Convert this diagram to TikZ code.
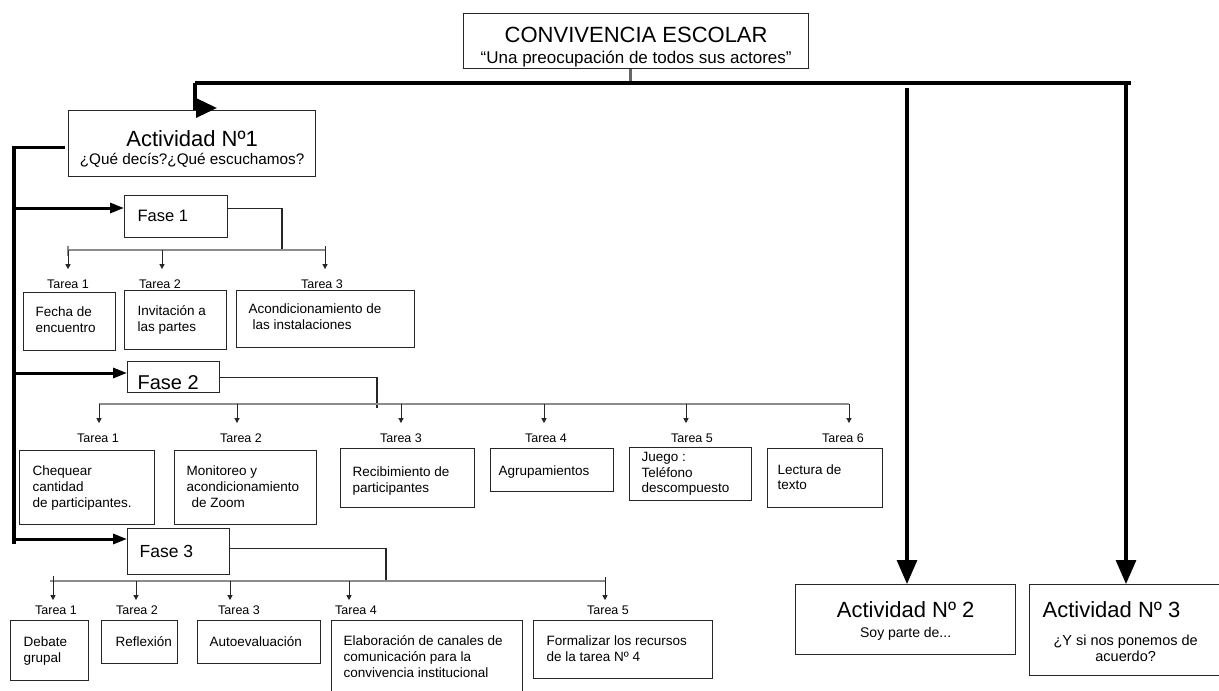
\documentclass[tikz,border=0pt]{standalone}
\usepackage{fontspec}
\setmainfont{Liberation Sans}
\usetikzlibrary{arrows.meta,calc}
\newcommand\fs[2]{\fontsize{#1pt}{#2pt}\selectfont}
% #1 font, #2 name, #3 x0, #4 y0, #5 width, #6 height, #7 text indent, #8 first baseline from top, #9 text
\newcommand\tbx[9][\fs{13.5}{16}]{%
  \node[box, text height=#8pt, text depth=\fpeval{#6-#8}pt] (#2) at (#3,#4)
  {\parbox[t]{#5pt}{#1\raggedright\leftskip=#7pt\relax #9}};}
\begin{document}
\begin{tikzpicture}[x=1pt,y=-1pt,
  box/.style={draw=black!85, line width=1.3pt, inner sep=0pt, anchor=north west},
  tl/.style={font=\fs{12.5}{15}, anchor=base, inner xsep=0pt, inner ysep=10pt},
  bar/.style={draw=black!45, line width=1.5pt},
  conn/.style={draw=black!85, line width=1.3pt},
  tarr/.style={draw=black!85, line width=1pt, -{Triangle[length=5pt,width=5pt]}},
  farr/.style={line width=3pt, -{Triangle[length=14pt,width=10pt]}},
  big/.style={line width=3.2pt, -{Triangle[length=24pt,width=20pt]}},
  trunk/.style={line width=3.5pt},
]
\useasboundingbox (0,0) rectangle (1219,691);
\fill[white] (0,0) rectangle (1219,691);

% ---- top and activities
\node[box, text height=29pt, text depth=26pt] (top) at (463,13)
  {\parbox[t]{345pt}{\centering\fs{22}{22}CONVIVENCIA ESCOLAR\par\fs{17}{21}“Una preocupación de todos sus actores”\par}};
\node[box, text height=36pt, text depth=30pt] (act1) at (68,110)
  {\parbox[t]{247pt}{\centering\fs{22}{22}Actividad Nº1\par\fs{15.3}{18}¿Qué decís?¿Qué escuchamos?\par}};
\node[box, text height=33pt, text depth=37pt] (act2) at (795,584)
  {\parbox[t]{220pt}{\centering\fs{22}{22}Actividad Nº 2\par\fs{14}{20}Soy parte de...\par}};
\node[box, text height=33pt, text depth=58pt] (act3) at (1029,584)
  {\parbox[t]{192pt}{\fs{22}{22}\hspace*{13pt}Actividad Nº 3\par\vspace{12.5pt}\centering\fs{14.5}{15.5}¿Y si nos ponemos de\\acuerdo?\par}};

% ---- phases
\tbx[\fs{16.5}{18}]{f1}{124}{195}{103}{42}{13}{26}{Fase 1}
\tbx[\fs{20}{22}]{f2}{127}{361}{92}{31}{10}{28}{Fase 2}
\tbx[\fs{17.5}{20}]{f3}{127}{528}{102}{46}{12}{29}{Fase 3}

% ---- tasks phase 1
\tbx{f1t1}{23}{292}{92}{58}{12}{24}{Fecha de\\encuentro}
\tbx{f1t2}{124}{290}{102}{59}{13}{25}{Invitación a\\las partes}
\tbx{f1t3}{236}{290}{178}{57}{12}{23}{Acondicionamiento de\\\hspace*{4pt}las instalaciones}
% ---- tasks phase 2
\tbx{f2t1}{19}{450}{135}{74}{13}{25}{Chequear\\cantidad\\de participantes.}
\tbx{f2t2}{174}{450}{142}{74}{12}{25}{Monitoreo y\\acondicionamiento\\\hspace*{5pt}de Zoom}
\tbx{f2t3}{340}{448}{134}{59}{12}{28}{Recibimiento de\\participantes}
\tbx{f2t4}{490}{448}{123}{43}{8}{27}{Agrupamientos}
\tbx[\fs{13.5}{15.5}]{f2t5}{629}{447}{122}{53}{12}{14}{Juego :\\Teléfono\\descompuesto}
\tbx[\fs{13.5}{15}]{f2t6}{767}{448}{115}{59}{10}{26}{Lectura de\\texto}
% ---- tasks phase 3
\tbx[\fs{13.5}{15.5}]{f3t1}{10}{620}{78}{60}{13}{26}{Debate\\grupal}
\tbx{f3t2}{101}{620}{76}{43}{14}{26}{Reflexión}
\tbx{f3t3}{197}{620}{123}{43}{12}{26}{Autoevaluación}
\tbx{f3t4}{331}{620}{191}{80}{12}{25}{Elaboración de canales de\\comunicación para la\\convivencia institucional}
\tbx{f3t5}{533}{620}{179}{58}{13}{25}{Formalizar los recursos\\de la tarea Nº 4}

% ---- task labels
\node[tl] (l11) at (68,288) {Tarea 1};
\node[tl] (l12) at (160,288) {Tarea 2};
\node[tl] (l13) at (322,288) {Tarea 3};
\node[tl] (l21) at (98,442) {Tarea 1};
\node[tl] (l22) at (241,442) {Tarea 2};
\node[tl] (l23) at (401,442) {Tarea 3};
\node[tl] (l24) at (546,442) {Tarea 4};
\node[tl] (l25) at (692,442) {Tarea 5};
\node[tl] (l26) at (843,442) {Tarea 6};
\node[tl, inner ysep=5pt] (l31) at (56,614) {Tarea 1};
\node[tl, inner ysep=5pt] (l32) at (137,614) {Tarea 2};
\node[tl, inner ysep=5pt] (l33) at (239,614) {Tarea 3};
\node[tl, inner ysep=5pt] (l34) at (356,614) {Tarea 4};
\node[tl, inner ysep=5pt] (l35) at (608,614) {Tarea 5};

% ---- main structure
\coordinate (barL) at (195,83);
\coordinate (barR) at (1131,83);
\draw[draw=black!60, line width=3pt] ([xshift=-5.5pt]top.south) -- ([xshift=-5.5pt]top.south |- barL);
\draw[trunk] (barL) -- (barR);
\coordinate (a1in) at (217,108);
\draw[line width=3.5pt, -{Triangle[length=21pt,width=19pt]}] (barL) |- (a1in);
\coordinate (a2s) at (907,88);
\draw[big] (a2s) -- (a2s |- act2.north);
\coordinate (a3s) at (1126,83);
\draw[big] (a3s) -- (a3s |- act3.north);

% ---- left spine
\coordinate (sp0) at ($(act1.west)+(-3,4)$);
\coordinate (sp2) at (14,544);
\draw[trunk] (sp0) -| (sp2);
\coordinate (s1) at (14,208);
\coordinate (s2) at (14,373);
\coordinate (s3) at (14,539);
\draw[farr] (s1) -- (s1 -| f1.west);
\draw[farr] (s2) -- (s2 -| f2.west);
\draw[farr] (s3) -- (s3 -| f3.west);

% ---- phase 1 distribution
\coordinate (f1j) at (282,250);
\coordinate (b11) at (68,250);
\coordinate (b12) at (162,250);
\coordinate (b13) at (325,250);
\draw[conn] ([yshift=8pt]f1.east) -| (f1j);
\draw[bar] (b11) -- (b13);
\draw[bar] ([yshift=4pt]b11) -- ([yshift=-6pt]b11);
\draw[conn, line width=1pt] ([yshift=4pt]b13) -- (b13);
\draw[tarr] (b11) -- (b11 |- l11.north);
\draw[tarr] (b12) -- (b12 |- l12.north);
\draw[tarr] (b13) -- (b13 |- l13.north);

% ---- phase 2 distribution
\coordinate (f2j) at (377,408);
\coordinate (b21) at (99,404);
\coordinate (b22) at (237,404);
\coordinate (b23) at (401,404);
\coordinate (b24) at (544,404);
\coordinate (b25) at (686,404);
\coordinate (b26) at (849,404);
\draw[conn] (f2.east) -| (f2j);
\draw[bar] (b21) -- (b26);
\foreach \b/\l in {b21/l21,b22/l22,b23/l23,b24/l24,b25/l25,b26/l26}
  \draw[tarr] (\b) -- (\b |- \l.north);

% ---- phase 3 distribution
\coordinate (f3j) at (386,581);
\coordinate (b30) at (50,581);
\coordinate (b31) at (53,581);
\coordinate (b32) at (136,581);
\coordinate (b33) at (230,581);
\coordinate (b34) at (349,581);
\coordinate (b35) at (605,581);
\draw[conn] ([yshift=3pt]f3.east) -| (f3j);
\draw[bar] (b30) -- (b35);
\draw[conn, line width=1pt] ([yshift=5pt]b31) -- (b31);
\draw[conn, line width=1pt] ([yshift=4pt]b35) -- (b35);
\foreach \b/\l in {b31/l31,b32/l32,b33/l33,b34/l34,b35/l35}
  \draw[tarr] (\b) -- (\b |- \l.north);
\end{tikzpicture}
\end{document}
